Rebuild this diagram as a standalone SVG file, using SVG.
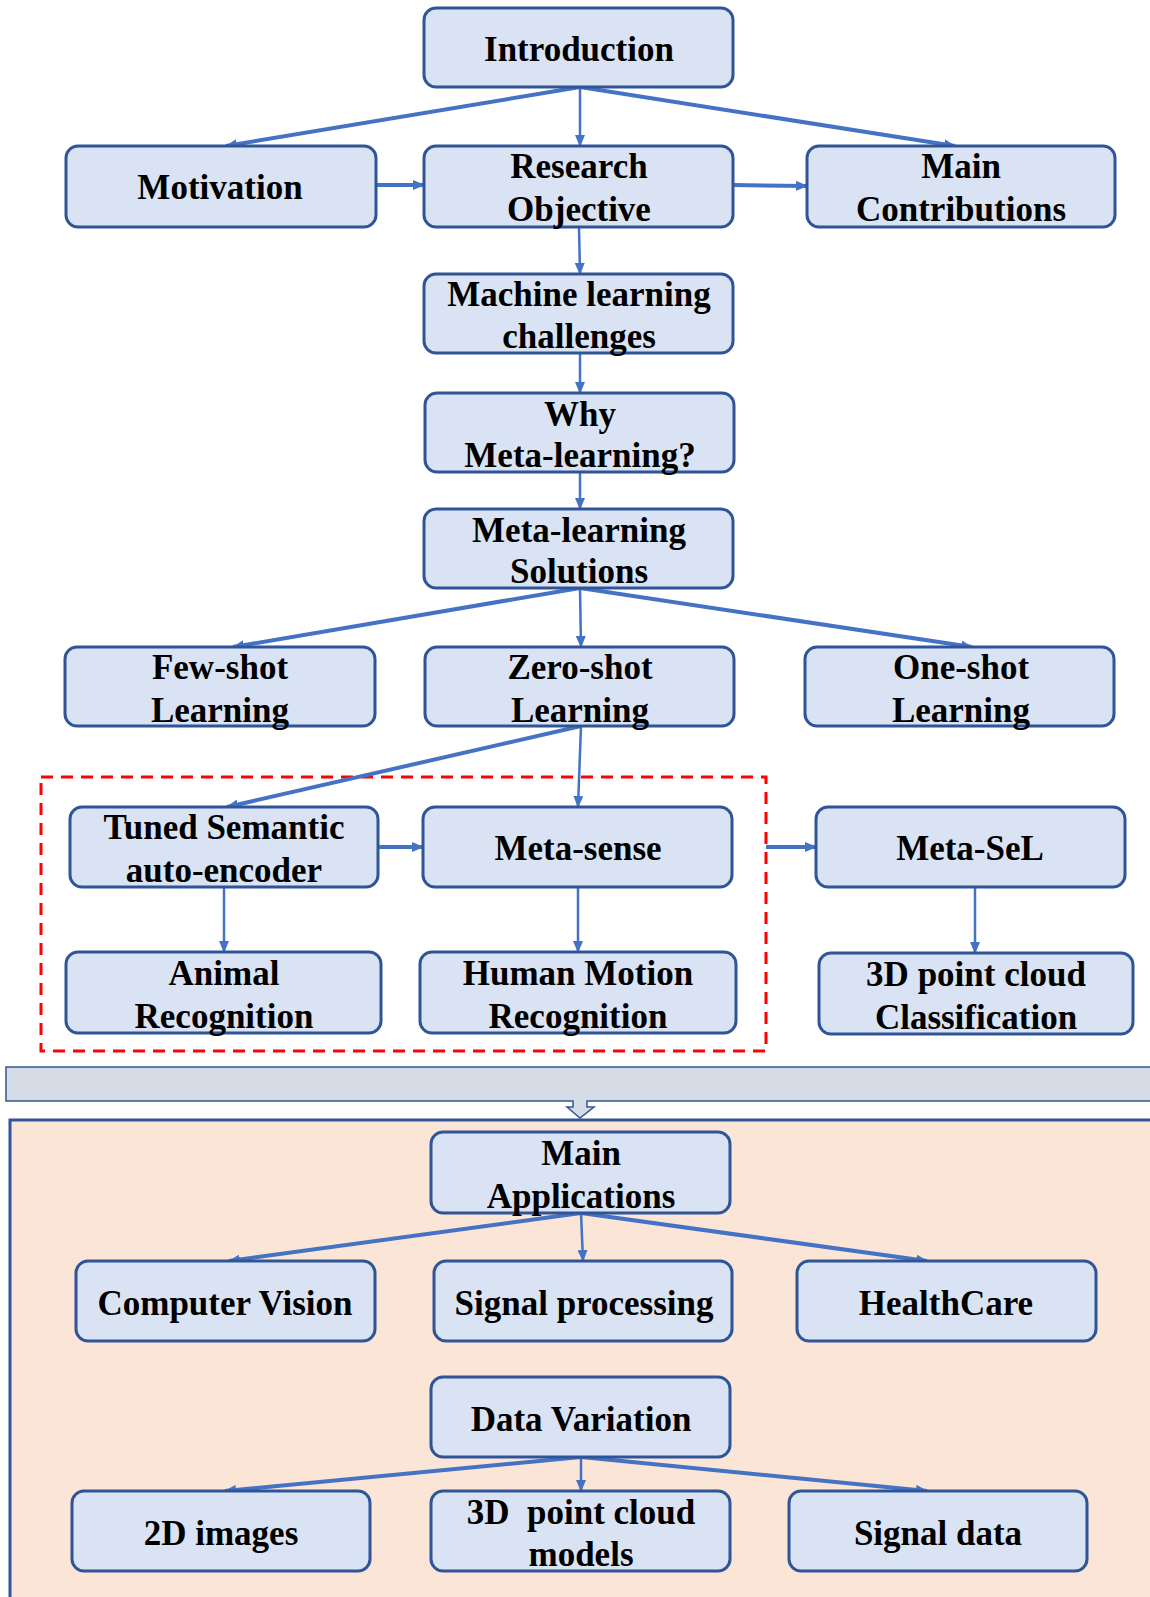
<svg xmlns="http://www.w3.org/2000/svg" width="1150" height="1597" viewBox="0 0 1150 1597">
  <style>
    .box { fill: #DAE3F3; stroke: #2F5597; stroke-width: 3; }
    .lbl { font-family: "Liberation Serif", "Times New Roman", serif; font-weight: bold; font-size: 35px; fill: #000; text-anchor: middle; }
    .c { fill: none; stroke: #4472C4; stroke-linecap: butt; }
    .thick { stroke-width: 4; marker-end: url(#ah); }
    .thin { stroke-width: 2.5; marker-end: url(#ah); }
  </style>
  <defs>
    <marker id="ah" markerUnits="userSpaceOnUse" markerWidth="12" markerHeight="10" refX="11" refY="5" orient="auto">
      <path d="M0,0 L12,5 L0,10 Z" fill="#4472C4"/>
    </marker>
  </defs>
  <rect width="1150" height="1597" fill="#fff"/>

  <!-- lower application panel and the band with its down arrow -->
  <rect x="10" y="1120" width="1150" height="490" fill="#FBE5D6" stroke="#2F5597" stroke-width="3"/>
  <path d="M6,1067 H1160 V1101 H587 V1107 H594 L580,1118 L567,1107 H573 V1101 H6 Z" fill="#D6DCE5" stroke="#2F5597" stroke-width="1.5"/>

  <!-- dashed frame round the zero-shot methods -->
  <rect x="41" y="777" width="725" height="274" fill="none" stroke="#FF0000" stroke-width="3" stroke-dasharray="12,8"/>

  <g id="connectors">
    <line class="c thick" x1="580" y1="87" x2="226" y2="146"/>
    <line class="c thin" x1="580" y1="87" x2="580" y2="146"/>
    <line class="c thick" x1="580" y1="87" x2="955" y2="146"/>
    <line class="c thick" x1="376" y1="185" x2="424" y2="185"/>
    <line class="c thick" x1="733" y1="185" x2="807" y2="186"/>
    <line class="c thin" x1="579" y1="227" x2="580" y2="274"/>
    <line class="c thin" x1="580" y1="353" x2="580" y2="393"/>
    <line class="c thin" x1="580" y1="472" x2="580" y2="509"/>
    <line class="c thick" x1="580" y1="588" x2="233" y2="647"/>
    <line class="c thin" x1="580" y1="588" x2="581" y2="647"/>
    <line class="c thick" x1="580" y1="588" x2="972" y2="647"/>
    <line class="c thick" x1="581" y1="726" x2="227" y2="807"/>
    <line class="c thin" x1="581" y1="726" x2="578" y2="807"/>
    <line class="c thick" x1="378" y1="847" x2="423" y2="847"/>
    <line class="c thick" x1="766" y1="847" x2="816" y2="847"/>
    <line class="c thin" x1="224" y1="887" x2="224" y2="952"/>
    <line class="c thin" x1="578" y1="887" x2="578" y2="952"/>
    <line class="c thin" x1="975" y1="887" x2="975" y2="953"/>
    <line class="c thick" x1="581" y1="1213" x2="229" y2="1261"/>
    <line class="c thin" x1="581" y1="1213" x2="583" y2="1261"/>
    <line class="c thick" x1="581" y1="1213" x2="927" y2="1261"/>
    <line class="c thick" x1="581" y1="1457" x2="225" y2="1491"/>
    <line class="c thin" x1="581" y1="1457" x2="581" y2="1491"/>
    <line class="c thick" x1="581" y1="1457" x2="927" y2="1491"/>
  </g>

  <g id="introduction"><rect class="box" x="424" y="8" width="309" height="79" rx="12"/>
    <text class="lbl" x="579" y="61">Introduction</text></g>
  <g id="motivation"><rect class="box" x="66" y="146" width="310" height="81" rx="12"/>
    <text class="lbl" x="220" y="199">Motivation</text></g>
  <g id="research-objective"><rect class="box" x="424" y="146" width="309" height="81" rx="12"/>
    <text class="lbl" x="579" y="178">Research</text>
    <text class="lbl" x="579" y="221">Objective</text></g>
  <g id="main-contributions"><rect class="box" x="807" y="146" width="308" height="81" rx="12"/>
    <text class="lbl" x="961" y="178">Main</text>
    <text class="lbl" x="961" y="221">Contributions</text></g>
  <g id="ml-challenges"><rect class="box" x="424" y="274" width="309" height="79" rx="12"/>
    <text class="lbl" x="579" y="306">Machine learning</text>
    <text class="lbl" x="579" y="348">challenges</text></g>
  <g id="why-meta"><rect class="box" x="425" y="393" width="309" height="79" rx="12"/>
    <text class="lbl" x="580" y="426">Why</text>
    <text class="lbl" x="580" y="467">Meta-learning?</text></g>
  <g id="meta-solutions"><rect class="box" x="424" y="509" width="309" height="79" rx="12"/>
    <text class="lbl" x="579" y="542">Meta-learning</text>
    <text class="lbl" x="579" y="583">Solutions</text></g>
  <g id="few-shot"><rect class="box" x="65" y="647" width="310" height="79" rx="12"/>
    <text class="lbl" x="220" y="679">Few-shot</text>
    <text class="lbl" x="220" y="722">Learning</text></g>
  <g id="zero-shot"><rect class="box" x="425" y="647" width="309" height="79" rx="12"/>
    <text class="lbl" x="580" y="679">Zero-shot</text>
    <text class="lbl" x="580" y="722">Learning</text></g>
  <g id="one-shot"><rect class="box" x="805" y="647" width="309" height="79" rx="12"/>
    <text class="lbl" x="961" y="679">One-shot</text>
    <text class="lbl" x="961" y="722">Learning</text></g>
  <g id="tuned-semantic"><rect class="box" x="70" y="807" width="308" height="80" rx="12"/>
    <text class="lbl" x="224" y="839">Tuned Semantic</text>
    <text class="lbl" x="224" y="882">auto-encoder</text></g>
  <g id="meta-sense"><rect class="box" x="423" y="807" width="309" height="80" rx="12"/>
    <text class="lbl" x="578" y="860">Meta-sense</text></g>
  <g id="meta-sel"><rect class="box" x="816" y="807" width="309" height="80" rx="12"/>
    <text class="lbl" x="970" y="860">Meta-SeL</text></g>
  <g id="animal"><rect class="box" x="66" y="952" width="315" height="81" rx="12"/>
    <text class="lbl" x="224" y="985">Animal</text>
    <text class="lbl" x="224" y="1028">Recognition</text></g>
  <g id="human-motion"><rect class="box" x="420" y="952" width="316" height="81" rx="12"/>
    <text class="lbl" x="578" y="985">Human Motion</text>
    <text class="lbl" x="578" y="1028">Recognition</text></g>
  <g id="point-cloud-cls"><rect class="box" x="819" y="953" width="314" height="81" rx="12"/>
    <text class="lbl" x="976" y="986">3D point cloud</text>
    <text class="lbl" x="976" y="1029">Classification</text></g>

  <g id="main-applications"><rect class="box" x="431" y="1132" width="299" height="81" rx="12"/>
    <text class="lbl" x="581" y="1165">Main</text>
    <text class="lbl" x="581" y="1208">Applications</text></g>
  <g id="computer-vision"><rect class="box" x="76" y="1261" width="299" height="80" rx="12"/>
    <text class="lbl" x="225" y="1315">Computer Vision</text></g>
  <g id="signal-processing"><rect class="box" x="434" y="1261" width="298" height="80" rx="12"/>
    <text class="lbl" x="584" y="1315">Signal processing</text></g>
  <g id="healthcare"><rect class="box" x="797" y="1261" width="299" height="80" rx="12"/>
    <text class="lbl" x="946" y="1315">HealthCare</text></g>
  <g id="data-variation"><rect class="box" x="431" y="1377" width="299" height="80" rx="12"/>
    <text class="lbl" x="581" y="1431">Data Variation</text></g>
  <g id="images-2d"><rect class="box" x="72" y="1491" width="298" height="80" rx="12"/>
    <text class="lbl" x="221" y="1545">2D images</text></g>
  <g id="point-cloud-models"><rect class="box" x="431" y="1491" width="299" height="80" rx="12"/>
    <text class="lbl" x="581" y="1524" xml:space="preserve">3D  point cloud</text>
    <text class="lbl" x="581" y="1566">models</text></g>
  <g id="signal-data"><rect class="box" x="789" y="1491" width="298" height="80" rx="12"/>
    <text class="lbl" x="938" y="1545">Signal data</text></g>
</svg>
